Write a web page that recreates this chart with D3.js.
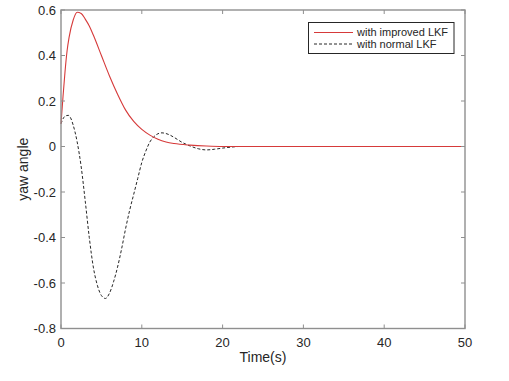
<!DOCTYPE html>
<html>
<head>
<meta charset="utf-8">
<script src="https://cdn.jsdelivr.net/npm/d3@7"></script>
<style>
html,body{margin:0;padding:0;background:#fff;}
svg{display:block;}
text{font-family:"Liberation Sans",Arial,Helvetica,sans-serif;}
</style>
</head>
<body>
<svg id="chart" width="509" height="381"></svg>
<script>
// Data
const timeImproved = [0, 0.25, 0.5, 0.75, 1, 1.5, 2, 2.5, 3, 3.5, 4, 5, 6, 7, 8, 9, 10, 11, 12, 13, 14, 16, 18, 20, 25, 30, 40, 50];
const yawImproved  = [0.10, 0.22, 0.33, 0.42, 0.48, 0.555, 0.59, 0.585, 0.56, 0.53, 0.49, 0.40, 0.31, 0.23, 0.16, 0.11, 0.075, 0.05, 0.032, 0.02, 0.013, 0.006, 0.002, 0.0, 0, 0, 0, 0];

const timeNormal = [0, 0.3, 0.6, 0.9, 1.2, 1.5, 2, 2.5, 3, 3.5, 4, 4.5, 5, 5.5, 6, 6.5, 7, 7.5, 8, 8.5, 9, 9.5, 10, 10.5, 11, 11.5, 12, 12.5, 13, 13.5, 14, 15, 16, 17, 18, 19, 20, 21, 22, 25, 30, 40, 50];
const yawNormal  = [0.10, 0.125, 0.135, 0.137, 0.125, 0.095, 0.02, -0.09, -0.24, -0.40, -0.53, -0.61, -0.655, -0.668, -0.645, -0.595, -0.53, -0.45, -0.36, -0.28, -0.21, -0.14, -0.07, -0.02, 0.02, 0.043, 0.056, 0.06, 0.057, 0.05, 0.04, 0.018, 0.002, -0.01, -0.015, -0.012, -0.007, -0.003, 0, 0, 0, 0, 0];

const xTicks = [0, 10, 20, 30, 40, 50];
const yTicks = [-0.8, -0.6, -0.4, -0.2, 0, 0.2, 0.4, 0.6];
const yTickLabels = ["-0.8", "-0.6", "-0.4", "-0.2", "0", "0.2", "0.4", "0.6"];
const seriesNames = ["with improved LKF", "with normal LKF"];
const xLabel = "Time(s)";
const yLabel = "yaw angle";

const svg = d3.select("#chart");
const pLeft = 61, pRight = 465, pTop = 10, pBottom = 328.5;

const x = d3.scaleLinear().domain([0, 50]).range([pLeft, pRight]);
const y = d3.scaleLinear().domain([-0.8, 0.6]).range([pBottom, pTop]);

const axisColor = "#8f8f8f";
const textColor = "#262626";

// Curves
const line = d3.line().x(d => x(d[0])).y(d => y(d[1])).curve(d3.curveMonotoneX);

svg.append("path")
  .datum(timeNormal.map((t, i) => [t, yawNormal[i]]))
  .attr("d", line)
  .attr("fill", "none")
  .attr("stroke", "#262626")
  .attr("stroke-width", 1)
  .attr("stroke-dasharray", "3,2");

svg.append("path")
  .datum(timeImproved.map((t, i) => [t, yawImproved[i]]))
  .attr("d", line)
  .attr("fill", "none")
  .attr("stroke", "#d63a3a")
  .attr("stroke-width", 1.1);

// Axes (box style, inward ticks)
const tickLen = 4;
const axG = svg.append("g");
axG.append("rect")
  .attr("x", pLeft).attr("y", pTop)
  .attr("width", pRight - pLeft).attr("height", pBottom - pTop)
  .attr("fill", "none").attr("stroke", axisColor).attr("stroke-width", 1.4);

xTicks.forEach(t => {
  axG.append("line").attr("x1", x(t)).attr("x2", x(t)).attr("y1", pBottom).attr("y2", pBottom - tickLen)
    .attr("stroke", axisColor).attr("stroke-width", 1);
  axG.append("line").attr("x1", x(t)).attr("x2", x(t)).attr("y1", pTop).attr("y2", pTop + tickLen)
    .attr("stroke", axisColor).attr("stroke-width", 1);
  axG.append("text").attr("x", x(t)).attr("y", pBottom + 18)
    .attr("text-anchor", "middle").attr("font-size", 13).attr("fill", textColor)
    .text(String(t));
});

yTicks.forEach((v, i) => {
  axG.append("line").attr("x1", pLeft).attr("x2", pLeft + tickLen).attr("y1", y(v)).attr("y2", y(v))
    .attr("stroke", axisColor).attr("stroke-width", 1);
  axG.append("line").attr("x1", pRight).attr("x2", pRight - tickLen).attr("y1", y(v)).attr("y2", y(v))
    .attr("stroke", axisColor).attr("stroke-width", 1);
  axG.append("text").attr("x", pLeft - 5).attr("y", y(v)).attr("dy", "0.35em")
    .attr("text-anchor", "end").attr("font-size", 13).attr("fill", textColor)
    .text(yTickLabels[i]);
});

// Axis labels
svg.append("text").attr("x", (pLeft + pRight) / 2).attr("y", 362)
  .attr("text-anchor", "middle").attr("font-size", 14).attr("fill", textColor).text(xLabel);
svg.append("text").attr("transform", `translate(28,${(pTop + pBottom) / 2}) rotate(-90)`)
  .attr("text-anchor", "middle").attr("font-size", 14).attr("fill", textColor).text(yLabel);

// Legend
const lg = svg.append("g");
lg.append("rect").attr("x", 308.5).attr("y", 22.5).attr("width", 145.5).attr("height", 31)
  .attr("fill", "#fff").attr("stroke", "#262626").attr("stroke-width", 1);
const legendRows = [
  {name: seriesNames[0], color: "#d63a3a", dash: null, yy: 32.5},
  {name: seriesNames[1], color: "#262626", dash: "3,2", yy: 44}
];
legendRows.forEach(r => {
  lg.append("line").attr("x1", 314).attr("x2", 353).attr("y1", r.yy).attr("y2", r.yy)
    .attr("stroke", r.color).attr("stroke-width", 1)
    .attr("stroke-dasharray", r.dash);
  lg.append("text").attr("x", 357).attr("y", r.yy).attr("dy", "0.35em")
    .attr("font-size", 11).attr("fill", textColor).text(r.name);
});
</script>
</body>
</html>
